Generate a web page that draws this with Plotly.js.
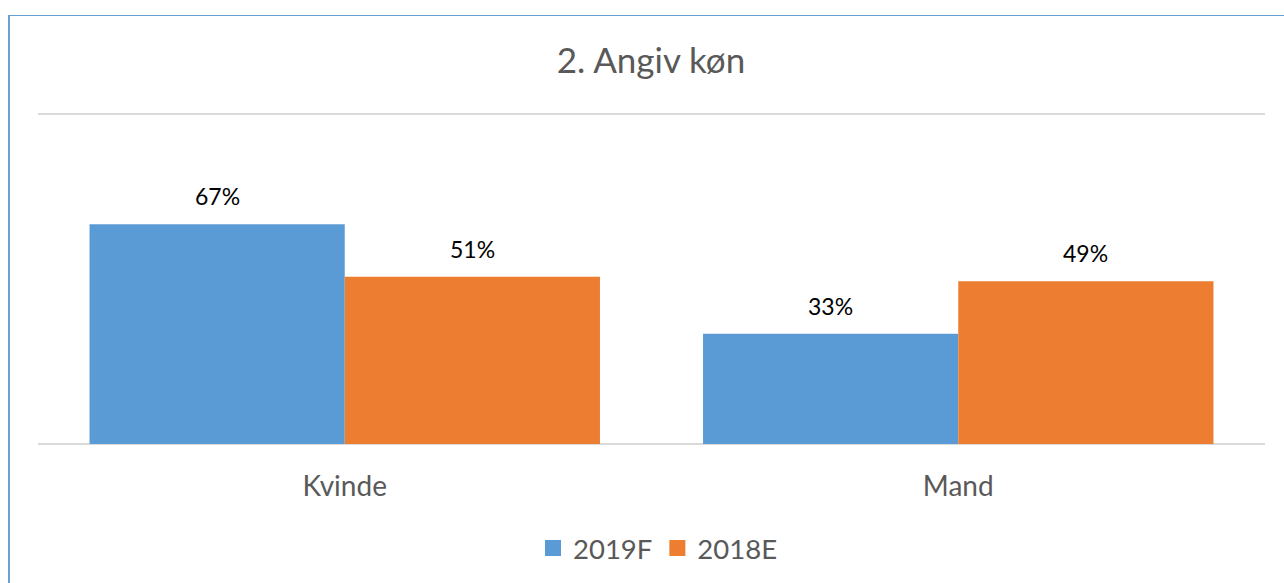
<!DOCTYPE html>
<html>
<head>
<meta charset="utf-8">
<script src="https://cdn.plot.ly/plotly-3.0.1.min.js"></script>
<style>
  html, body { margin: 0; padding: 0; background: #fff; }
  #wrap { position: relative; width: 1284px; height: 583px; overflow: hidden; }
  #chart { position: absolute; left: 0; top: 0; width: 1284px; height: 583px; }
  #frame { position: absolute; left: 8px; top: 15px; width: 1400px; height: 700px;
           border-left: 2px solid #6a9fd4; border-top: 1.5px solid #6a9fd4; pointer-events: none; }
</style>
</head>
<body>
<div id="wrap">
  <div id="chart"></div>
  <div id="frame"></div>
</div>
<script>
const categories = ["Kvinde", "Mand"];
const seriesNames = ["2019F", "2018E"];
const values2019F = [0.666, 0.334];
const values2018E = [0.507, 0.493];
const seriesColors = ["#5B9BD5", "#ED7D31"];

const FONT = "Lato, 'Open Sans', sans-serif";
const bargap = 0.168;
const seriesValues = [values2019F, values2018E];

const traces = seriesValues.map((vals, i) => ({
  type: "bar",
  name: seriesNames[i],
  x: categories,
  y: vals,
  marker: { color: seriesColors[i], line: { width: 0 } },
  showlegend: false,
  hoverinfo: "skip"
}));

// legend-only entries with larger square swatches
seriesNames.forEach((n, i) => {
  traces.push({
    type: "scatter",
    mode: "markers",
    name: n,
    x: [null],
    y: [null],
    marker: { symbol: "square", size: 16, color: seriesColors[i] },
    showlegend: true,
    hoverinfo: "skip"
  });
});

// data labels centered above each bar
const annotations = [];
const barW = (1 - bargap) / seriesValues.length;
seriesValues.forEach((vals, s) => {
  vals.forEach((v, c) => {
    annotations.push({
      x: c + (s - (seriesValues.length - 1) / 2) * barW,
      y: v,
      xref: "x",
      yref: "y",
      text: Math.round(v * 100) + "%",
      showarrow: false,
      yanchor: "bottom",
      yshift: 12,
      font: { family: FONT, size: 23, color: "#000000" }
    });
  });
});

const layout = {
  width: 1284,
  height: 583,
  paper_bgcolor: "rgba(0,0,0,0)",
  plot_bgcolor: "rgba(0,0,0,0)",
  margin: { l: 38, r: 19, t: 104, b: 139 },
  title: {
    text: "2. Angiv køn",
    font: { family: FONT, size: 35, color: "#595959" },
    x: 651 / 1284,
    xanchor: "center",
    y: 1 - 61 / 583,
    yanchor: "middle",
    yref: "container"
  },
  barmode: "group",
  bargap: bargap,
  bargroupgap: 0,
  xaxis: {
    type: "category",
    showgrid: false,
    showline: false,
    ticks: "",
    ticklabelstandoff: 23,
    tickfont: { family: FONT, size: 28, color: "#595959" },
    fixedrange: true
  },
  yaxis: {
    range: [0, 1.03],
    tickvals: [0, 1],
    showticklabels: false,
    showgrid: true,
    gridcolor: "#d9d9d9",
    gridwidth: 2,
    zeroline: true,
    zerolinecolor: "#d9d9d9",
    zerolinewidth: 2,
    fixedrange: true
  },
  legend: {
    orientation: "h",
    x: 658 / 1284,
    xanchor: "center",
    xref: "container",
    y: 1 - 548 / 583,
    yanchor: "middle",
    yref: "container",
    font: { family: FONT, size: 27.5, color: "#595959" },
    itemwidth: 30,
    tracegroupgap: 0
  },
  annotations: annotations,
  showlegend: true
};

Plotly.newPlot("chart", traces, layout, { displayModeBar: false, staticPlot: true });
</script>
</body>
</html>
